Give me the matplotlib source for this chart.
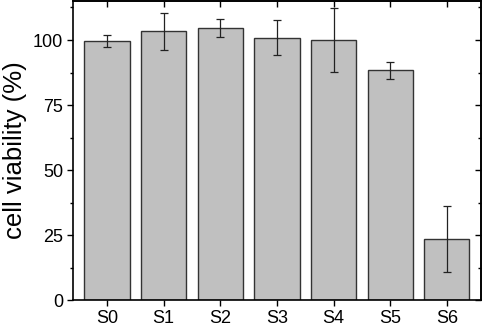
import matplotlib.pyplot as plt
import numpy as np
from matplotlib.ticker import MultipleLocator

plt.rcParams['font.family'] = ['Liberation Sans', 'DejaVu Sans']

samples = ['S0', 'S1', 'S2', 'S3', 'S4', 'S5', 'S6']
viability = [99.6, 103.3, 104.6, 100.9, 100.0, 88.4, 23.4]
errors = [2.4, 7.2, 3.5, 6.7, 12.3, 3.2, 12.7]

fig = plt.figure(figsize=(4.82, 3.26), dpi=100)
ax = fig.add_axes([0.1515, 0.079, 0.846, 0.918])

x = np.arange(len(samples))
ax.bar(x, viability, width=0.8, color='#c0c0c0', edgecolor='#333333', linewidth=1.0)
ax.errorbar(x, viability, yerr=errors, fmt='none', ecolor='#222222',
            elinewidth=0.9, capsize=3, capthick=0.9)

ax.set_xlim(-0.6, 6.6)
ax.set_ylim(0, 115)
ax.set_xticks(x)
ax.set_xticklabels(samples)
ax.yaxis.set_major_locator(MultipleLocator(25))
ax.yaxis.set_minor_locator(MultipleLocator(12.5))
ax.tick_params(axis='both', which='major', labelsize=13, length=4, width=1, pad=3)
ax.tick_params(axis='y', which='minor', length=2.5, width=1)
ax.tick_params(axis='both', which='both', direction='out')
# mirrored ticks on top and right point inward
sec_x = ax.secondary_xaxis('top')
sec_x.set_xticks(x)
sec_x.tick_params(direction='in', length=4, width=1, labeltop=False)
sec_y = ax.secondary_yaxis('right')
sec_y.yaxis.set_major_locator(MultipleLocator(25))
sec_y.yaxis.set_minor_locator(MultipleLocator(12.5))
sec_y.tick_params(which='major', direction='in', length=4, width=1, labelright=False)
sec_y.tick_params(which='minor', direction='in', length=2.5, width=1)
for s in (sec_x, sec_y):
    for sp in s.spines.values():
        sp.set_linewidth(1.2)
for sp in ax.spines.values():
    sp.set_linewidth(1.2)
ax.set_ylabel('cell viability (%)', fontsize=18.5, labelpad=4)

fig.savefig('out.png', dpi=100)
